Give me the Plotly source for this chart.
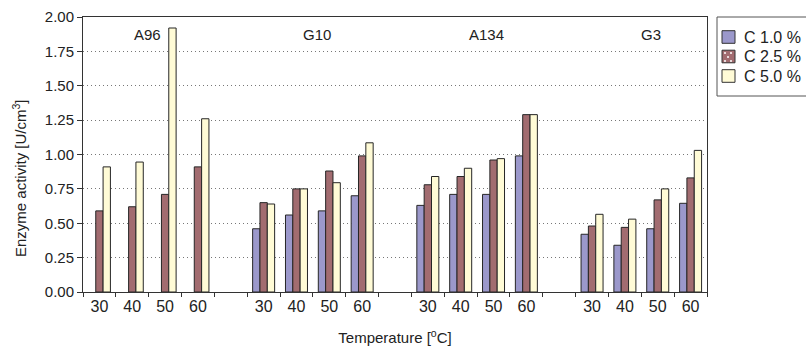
import plotly.graph_objects as go

groups = ["A96", "G10", "A134", "G3"]
temps = ["30", "40", "50", "60"]
series_names = ["C 1.0 %", "C 2.5 %", "C 5.0 %"]
c10 = [None, None, None, None, 0.46, 0.56, 0.59, 0.70, 0.63, 0.71, 0.71, 0.99, 0.42, 0.34, 0.46, 0.645]
c25 = [0.59, 0.62, 0.71, 0.91, 0.65, 0.75, 0.88, 0.99, 0.78, 0.84, 0.96, 1.29, 0.48, 0.47, 0.67, 0.83]
c50 = [0.91, 0.945, 1.92, 1.26, 0.64, 0.75, 0.795, 1.085, 0.84, 0.90, 0.97, 1.29, 0.565, 0.53, 0.75, 1.03]
colors = ["#9b98cb", "#a26c70", "#fffbd6"]

W, H = 806, 348
ML, MR, MT, MB = 83, 99, 17, 56
PW, PH = W - ML - MR, H - MT - MB

def px(x):
    return (x - ML) / PW

def py(y):
    return (H - MB - y) / PH

# slot index of each category: 4 temperatures per group, one empty slot between groups
slots_per_group = len(temps) + 1
xpos, xlabels = [], []
for gi, g in enumerate(groups):
    for ti, t in enumerate(temps):
        xpos.append(gi * slots_per_group + ti)
        xlabels.append(t)
n_slots = len(groups) * slots_per_group - 1

FONT = "Liberation Sans, Arial, sans-serif"
fig = go.Figure()
for name, vals, col in zip(series_names, [c10, c25, c50], colors):
    pairs = [(x, v) for x, v in zip(xpos, vals) if v is not None]
    fig.add_trace(go.Bar(x=[p[0] for p in pairs], y=[p[1] for p in pairs], name=name,
                         offsetgroup=name,
                         marker=dict(color=col, line=dict(color="#262626", width=1)),
                         showlegend=False))

fig.update_layout(
    width=W, height=H, margin=dict(l=ML, r=MR, t=MT, b=MB, autoexpand=False),
    paper_bgcolor="white", plot_bgcolor="white",
    barmode="group", bargap=0.33, bargroupgap=0,
    font=dict(family=FONT, size=15, color="#222"),
    showlegend=False,
)
fig.update_xaxes(range=[-0.5, n_slots - 0.5],
                 tickmode="array", tickvals=xpos, ticktext=xlabels, ticks="",
                 showgrid=False, zeroline=False,
                 minor=dict(tickmode="array", tickvals=[i - 0.5 for i in range(n_slots + 1)],
                            ticks="outside", ticklen=4, tickcolor="#333", showgrid=False),
                 showline=True, linecolor="#333", linewidth=1, mirror=True,
                 tickfont=dict(size=16, color="#222"),
                 title=dict(text="Temperature [<sup>o</sup>C]", font=dict(size=15, color="#222"), standoff=18))
fig.update_yaxes(range=[0, 2], tickmode="array", tickvals=[i * 0.25 for i in range(9)], tickformat=".2f",
                 ticks="outside", ticklen=5, tickcolor="#333",
                 showgrid=True, gridcolor="#777", griddash="1px,3px", gridwidth=1,
                 showline=True, linecolor="#333", linewidth=1, mirror=True, zeroline=False,
                 tickfont=dict(size=15, color="#222"))

annotations = []
# group labels
label_pos = [1.45, 6.63, 11.79, 16.79]
for g, xp in zip(groups, label_pos):
    annotations.append(dict(x=xp, y=1.87, xref="x", yref="y", text=g, showarrow=False,
                            font=dict(size=15, color="#222"), xanchor="center", yanchor="middle"))
# y axis title (sits lower than the plot centre in the reference)
annotations.append(dict(x=px(19), y=py(178), xref="paper", yref="paper", text="Enzyme activity [U/cm<sup>3</sup>]",
                        showarrow=False, textangle=-90, font=dict(size=15, color="#222"), xanchor="center", yanchor="middle"))

# legend box
shapes = [dict(type="rect", xref="paper", yref="paper", x0=px(717), x1=px(815), y0=py(96), y1=py(17),
               line=dict(color="#555", width=1), fillcolor="white")]
centers = [37, 56.5, 76]
for name, col, cy in zip(series_names, colors, centers):
    shapes.append(dict(type="rect", xref="paper", yref="paper", x0=px(722), x1=px(735), y0=py(cy + 6.3), y1=py(cy - 6.3),
                       line=dict(color="#333", width=1), fillcolor=col))
    annotations.append(dict(x=px(742), y=py(cy), xref="paper", yref="paper", text=name, showarrow=False,
                            font=dict(size=16, color="#222"), xanchor="left", yanchor="middle"))
# dotted texture for the 2.5 % swatch
for dx, dy in [(725, 53), (731, 53), (728, 57), (725, 61), (731, 61)]:
    shapes.append(dict(type="circle", xref="paper", yref="paper", x0=px(dx - 1), x1=px(dx + 1), y0=py(dy + 1), y1=py(dy - 1),
                       line=dict(width=0), fillcolor="white"))

fig.update_layout(annotations=annotations, shapes=shapes)
fig.write_html("out.html")
